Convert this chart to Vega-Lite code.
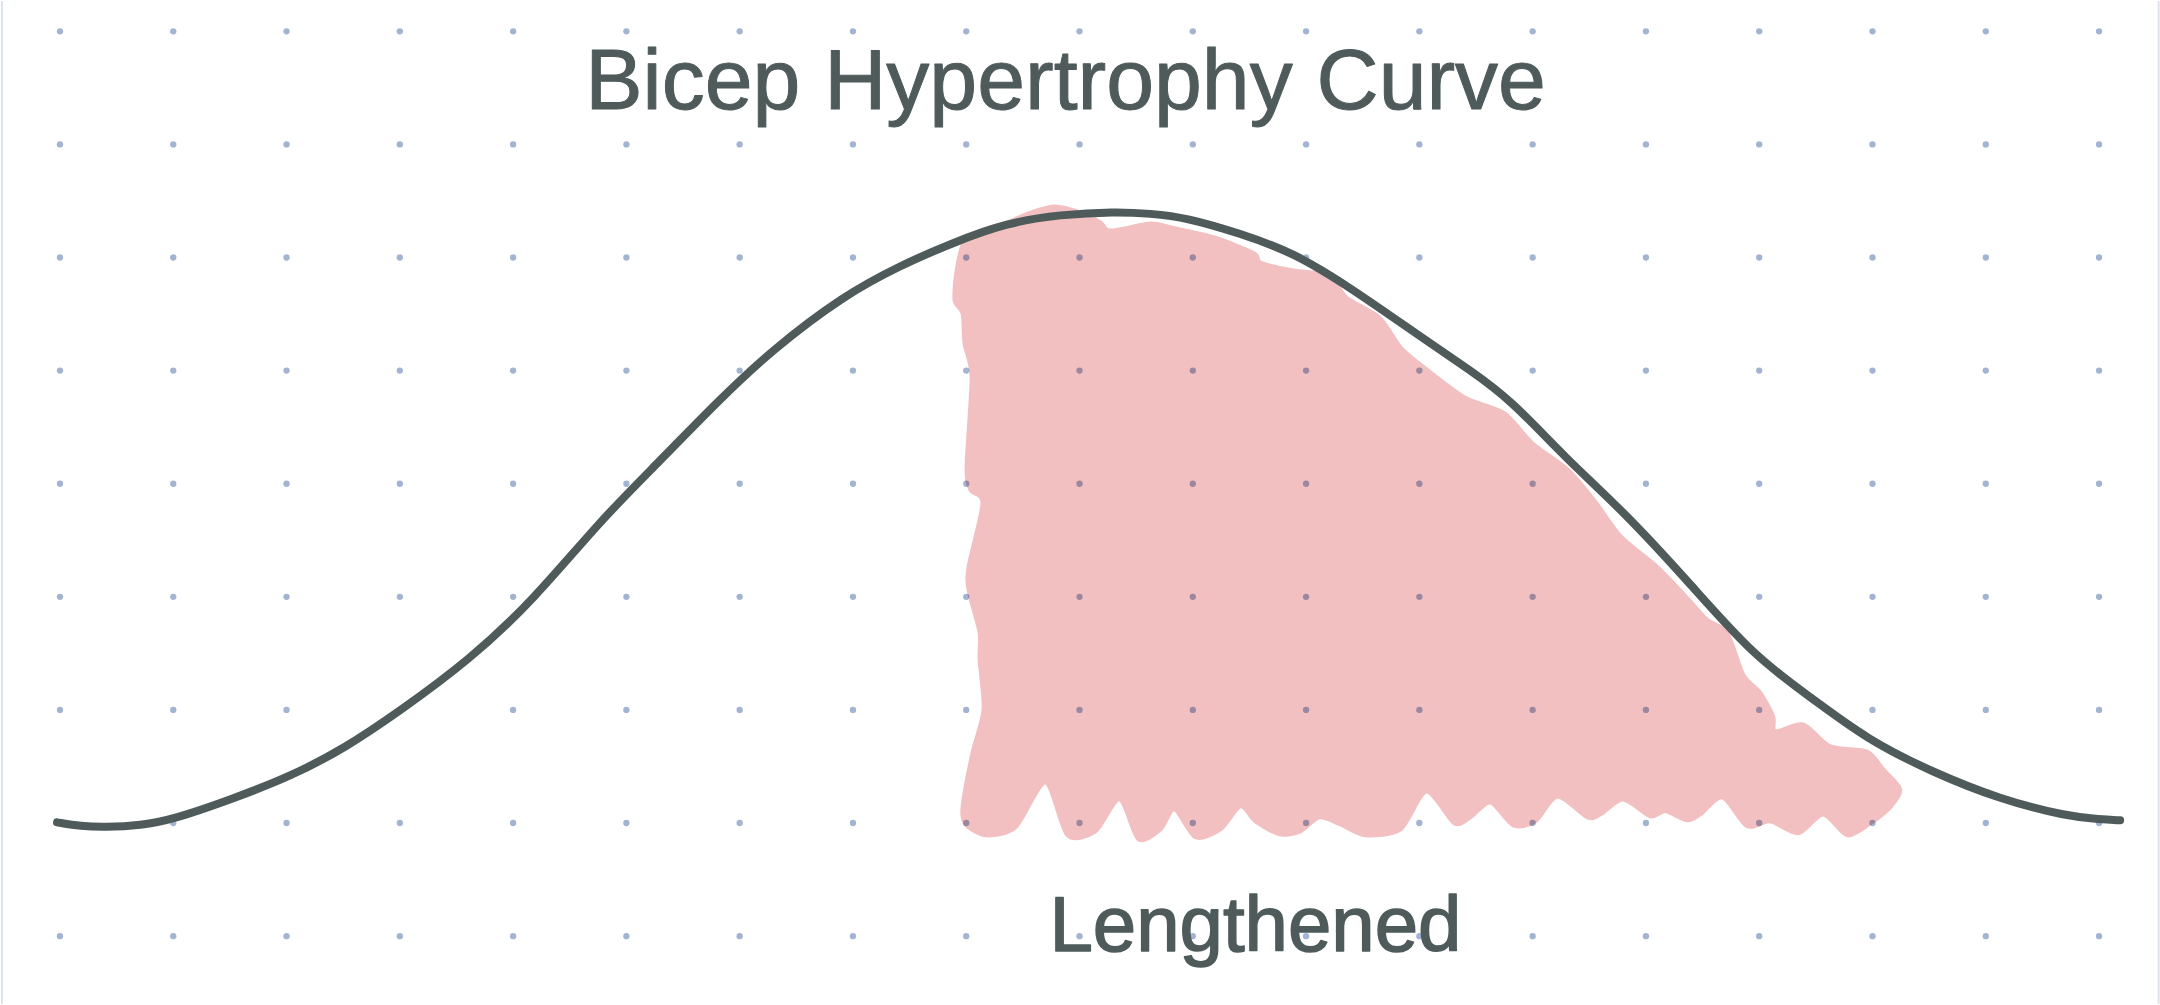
{
  "$schema": "https://vega.github.io/schema/vega-lite/v6.json",
  "width": 2160,
  "height": 1005,
  "autosize": {"type": "fit", "contains": "padding"},
  "padding": 0,
  "background": "#ffffff",
  "config": {"view": {"stroke": null}},
  "datasets": {
    "dots": [
      {"gx":0,"gy":0},{"gx":1,"gy":0},{"gx":2,"gy":0},{"gx":3,"gy":0},{"gx":4,"gy":0},{"gx":5,"gy":0},{"gx":6,"gy":0},{"gx":7,"gy":0},{"gx":8,"gy":0},{"gx":9,"gy":0},{"gx":10,"gy":0},{"gx":11,"gy":0},{"gx":12,"gy":0},{"gx":13,"gy":0},{"gx":14,"gy":0},{"gx":15,"gy":0},{"gx":16,"gy":0},{"gx":17,"gy":0},{"gx":18,"gy":0},
      {"gx":0,"gy":1},{"gx":1,"gy":1},{"gx":2,"gy":1},{"gx":3,"gy":1},{"gx":4,"gy":1},{"gx":5,"gy":1},{"gx":6,"gy":1},{"gx":7,"gy":1},{"gx":8,"gy":1},{"gx":9,"gy":1},{"gx":10,"gy":1},{"gx":11,"gy":1},{"gx":12,"gy":1},{"gx":13,"gy":1},{"gx":14,"gy":1},{"gx":15,"gy":1},{"gx":16,"gy":1},{"gx":17,"gy":1},{"gx":18,"gy":1},
      {"gx":0,"gy":2},{"gx":1,"gy":2},{"gx":2,"gy":2},{"gx":3,"gy":2},{"gx":4,"gy":2},{"gx":5,"gy":2},{"gx":6,"gy":2},{"gx":7,"gy":2},{"gx":8,"gy":2},{"gx":9,"gy":2},{"gx":10,"gy":2},{"gx":11,"gy":2},{"gx":12,"gy":2},{"gx":13,"gy":2},{"gx":14,"gy":2},{"gx":15,"gy":2},{"gx":16,"gy":2},{"gx":17,"gy":2},{"gx":18,"gy":2},
      {"gx":0,"gy":3},{"gx":1,"gy":3},{"gx":2,"gy":3},{"gx":3,"gy":3},{"gx":4,"gy":3},{"gx":5,"gy":3},{"gx":6,"gy":3},{"gx":7,"gy":3},{"gx":8,"gy":3},{"gx":9,"gy":3},{"gx":10,"gy":3},{"gx":11,"gy":3},{"gx":12,"gy":3},{"gx":13,"gy":3},{"gx":14,"gy":3},{"gx":15,"gy":3},{"gx":16,"gy":3},{"gx":17,"gy":3},{"gx":18,"gy":3},
      {"gx":0,"gy":4},{"gx":1,"gy":4},{"gx":2,"gy":4},{"gx":3,"gy":4},{"gx":4,"gy":4},{"gx":5,"gy":4},{"gx":6,"gy":4},{"gx":7,"gy":4},{"gx":8,"gy":4},{"gx":9,"gy":4},{"gx":10,"gy":4},{"gx":11,"gy":4},{"gx":12,"gy":4},{"gx":13,"gy":4},{"gx":14,"gy":4},{"gx":15,"gy":4},{"gx":16,"gy":4},{"gx":17,"gy":4},{"gx":18,"gy":4},
      {"gx":0,"gy":5},{"gx":1,"gy":5},{"gx":2,"gy":5},{"gx":3,"gy":5},{"gx":4,"gy":5},{"gx":5,"gy":5},{"gx":6,"gy":5},{"gx":7,"gy":5},{"gx":8,"gy":5},{"gx":9,"gy":5},{"gx":10,"gy":5},{"gx":11,"gy":5},{"gx":12,"gy":5},{"gx":13,"gy":5},{"gx":14,"gy":5},{"gx":15,"gy":5},{"gx":16,"gy":5},{"gx":17,"gy":5},{"gx":18,"gy":5},
      {"gx":0,"gy":6},{"gx":1,"gy":6},{"gx":2,"gy":6},{"gx":3,"gy":6},{"gx":4,"gy":6},{"gx":5,"gy":6},{"gx":6,"gy":6},{"gx":7,"gy":6},{"gx":8,"gy":6},{"gx":9,"gy":6},{"gx":10,"gy":6},{"gx":11,"gy":6},{"gx":12,"gy":6},{"gx":13,"gy":6},{"gx":14,"gy":6},{"gx":15,"gy":6},{"gx":16,"gy":6},{"gx":17,"gy":6},{"gx":18,"gy":6},
      {"gx":0,"gy":7},{"gx":1,"gy":7},{"gx":2,"gy":7},{"gx":3,"gy":7},{"gx":4,"gy":7},{"gx":5,"gy":7},{"gx":6,"gy":7},{"gx":7,"gy":7},{"gx":8,"gy":7},{"gx":9,"gy":7},{"gx":10,"gy":7},{"gx":11,"gy":7},{"gx":12,"gy":7},{"gx":13,"gy":7},{"gx":14,"gy":7},{"gx":15,"gy":7},{"gx":16,"gy":7},{"gx":17,"gy":7},{"gx":18,"gy":7},
      {"gx":0,"gy":8},{"gx":1,"gy":8},{"gx":2,"gy":8},{"gx":3,"gy":8},{"gx":4,"gy":8},{"gx":5,"gy":8},{"gx":6,"gy":8},{"gx":7,"gy":8},{"gx":8,"gy":8},{"gx":9,"gy":8},{"gx":10,"gy":8},{"gx":11,"gy":8},{"gx":12,"gy":8},{"gx":13,"gy":8},{"gx":14,"gy":8},{"gx":15,"gy":8},{"gx":16,"gy":8},{"gx":17,"gy":8},{"gx":18,"gy":8}
    ],
    "edges": [{"bx": -0.512}, {"bx": 18.526}],
    "shaded": [
      {"i":0,"px":7.985,"py":6.150},{"i":1,"px":8.171,"py":6.256},{"i":2,"px":8.338,"py":6.300},{"i":3,"px":8.568,"py":6.397},{"i":4,"px":8.780,"py":6.450},{"i":5,"px":9.009,"py":6.397},{"i":6,"px":9.186,"py":6.309},{"i":7,"px":9.274,"py":6.238},{"i":8,"px":9.627,"py":6.300},{"i":9,"px":9.812,"py":6.265},
      {"i":10,"px":10.191,"py":6.177},{"i":11,"px":10.544,"py":6.036},{"i":12,"px":10.597,"py":5.956},{"i":13,"px":10.889,"py":5.885},{"i":14,"px":11.206,"py":5.841},{"i":15,"px":11.356,"py":5.647},{"i":16,"px":11.647,"py":5.471},{"i":17,"px":11.833,"py":5.206},{"i":18,"px":12.018,"py":5.047},{"i":19,"px":12.397,"py":4.765},
      {"i":20,"px":12.750,"py":4.624},{"i":21,"px":12.997,"py":4.359},{"i":22,"px":13.315,"py":4.121},{"i":23,"px":13.562,"py":3.829},{"i":24,"px":13.782,"py":3.530},{"i":25,"px":14.100,"py":3.265},{"i":26,"px":14.356,"py":3.000},{"i":27,"px":14.541,"py":2.797},{"i":28,"px":14.718,"py":2.682},{"i":29,"px":14.859,"py":2.312},
      {"i":30,"px":15.009,"py":2.153},{"i":31,"px":15.124,"py":1.941},{"i":32,"px":15.142,"py":1.809},{"i":33,"px":15.389,"py":1.871},{"i":34,"px":15.627,"py":1.677},{"i":35,"px":15.953,"py":1.632},{"i":36,"px":16.095,"py":1.474},{"i":37,"px":16.245,"py":1.297},
      {"i":38,"px":16.156,"py":1.138},{"i":39,"px":15.980,"py":0.997},{"i":40,"px":15.777,"py":0.891},{"i":41,"px":15.565,"py":1.076},{"i":42,"px":15.344,"py":0.909},{"i":43,"px":15.097,"py":1.015},{"i":44,"px":14.894,"py":0.971},{"i":45,"px":14.674,"py":1.227},{"i":46,"px":14.480,"py":1.076},{"i":47,"px":14.365,"py":1.024},
      {"i":48,"px":14.171,"py":1.103},{"i":49,"px":14.039,"py":1.059},{"i":50,"px":13.800,"py":1.209},{"i":51,"px":13.597,"py":1.076},{"i":52,"px":13.483,"py":1.050},{"i":53,"px":13.218,"py":1.235},{"i":54,"px":13.024,"py":1.015},{"i":55,"px":12.830,"py":0.979},{"i":56,"px":12.627,"py":1.182},{"i":57,"px":12.450,"py":1.050},
      {"i":58,"px":12.309,"py":0.997},{"i":59,"px":12.062,"py":1.279},{"i":60,"px":11.833,"py":0.944},{"i":61,"px":11.524,"py":0.891},{"i":62,"px":11.303,"py":0.988},{"i":63,"px":11.118,"py":1.050},{"i":64,"px":10.950,"py":0.927},{"i":65,"px":10.765,"py":0.900},{"i":66,"px":10.553,"py":1.015},{"i":67,"px":10.421,"py":1.147},
      {"i":68,"px":10.244,"py":0.944},{"i":69,"px":10.024,"py":0.874},{"i":70,"px":9.838,"py":1.121},{"i":71,"px":9.715,"py":0.944},{"i":72,"px":9.521,"py":0.856},{"i":73,"px":9.353,"py":1.209},{"i":74,"px":9.141,"py":0.927},{"i":75,"px":8.894,"py":0.891},{"i":76,"px":8.700,"py":1.359},{"i":77,"px":8.435,"py":0.962},
      {"i":78,"px":8.180,"py":0.891},{"i":79,"px":7.994,"py":0.988},{"i":80,"px":7.968,"py":1.147},{"i":81,"px":8.056,"py":1.624},{"i":82,"px":8.153,"py":2.003},{"i":83,"px":8.118,"py":2.444},{"i":84,"px":8.118,"py":2.682},{"i":85,"px":8.021,"py":3.062},{"i":86,"px":8.021,"py":3.265},{"i":87,"px":8.144,"py":3.829},
      {"i":88,"px":8.038,"py":3.944},{"i":89,"px":8.003,"py":4.147},{"i":90,"px":8.047,"py":4.941},{"i":91,"px":7.985,"py":5.241},{"i":92,"px":7.968,"py":5.506},{"i":93,"px":7.897,"py":5.621},{"i":94,"px":7.915,"py":5.885}
    ],
    "curve": [
      {"pos":-0.026,"growth":1.006},{"pos":0.185,"growth":0.971},{"pos":0.397,"growth":0.962},{"pos":0.715,"growth":0.979},{"pos":0.997,"growth":1.032},{"pos":1.509,"growth":1.209},{"pos":2.038,"growth":1.412},{"pos":2.524,"growth":1.668},{"pos":2.982,"growth":1.977},{"pos":3.618,"growth":2.444},
      {"pos":4.182,"growth":2.974},{"pos":4.774,"growth":3.679},{"pos":5.277,"growth":4.182},{"pos":5.815,"growth":4.738},{"pos":6.282,"growth":5.180},{"pos":6.918,"growth":5.665},{"pos":7.421,"growth":5.930},{"pos":7.862,"growth":6.124},{"pos":8.365,"growth":6.309},{"pos":8.833,"growth":6.380},
      {"pos":9.309,"growth":6.406},{"pos":9.627,"growth":6.389},{"pos":9.944,"growth":6.353},{"pos":10.421,"growth":6.212},{"pos":10.889,"growth":6.044},{"pos":11.391,"growth":5.735},{"pos":12.018,"growth":5.294},{"pos":12.450,"growth":5.003},{"pos":12.812,"growth":4.738},{"pos":13.280,"growth":4.235},
      {"pos":13.818,"growth":3.741},{"pos":14.383,"growth":3.124},{"pos":14.956,"growth":2.471},{"pos":15.459,"growth":2.109},{"pos":15.953,"growth":1.738},{"pos":16.536,"growth":1.447},{"pos":17.127,"growth":1.209},{"pos":17.718,"growth":1.059},{"pos":18.009,"growth":1.032},{"pos":18.186,"growth":1.024}
    ],
    "labels": [
      {"label": "Bicep Hypertrophy Curve", "lx": 8.877, "ly": 7.315, "kind": "title"},
      {"label": "Lengthened", "lx": 10.553, "ly": -0.132, "kind": "axis"}
    ]
  },
  "layer": [
    {
      "data": {"name": "edges"},
      "mark": {"type": "rule", "color": "#dfe4ec", "strokeWidth": 2},
      "encoding": {
        "x": {"field": "bx", "type": "quantitative", "scale": {"domain": [-0.5206, 18.538], "nice": false, "zero": false}, "axis": null}
      }
    },
    {
      "data": {"name": "dots"},
      "mark": {"type": "point", "shape": "circle", "filled": true, "size": 40, "color": "#a3b4d3", "opacity": 1},
      "encoding": {
        "x": {"field": "gx", "type": "quantitative", "scale": {"domain": [-0.5206, 18.538], "nice": false, "zero": false}, "axis": null},
        "y": {"field": "gy", "type": "quantitative", "scale": {"domain": [-0.600, 8.268], "nice": false, "zero": false}, "axis": null}
      }
    },
    {
      "data": {"name": "shaded"},
      "mark": {"type": "line", "fill": "#f2c0c0", "stroke": "#f2c0c0", "strokeWidth": 4, "interpolate": "cardinal-closed", "tension": 0.2, "blend": "multiply"},
      "encoding": {
        "x": {"field": "px", "type": "quantitative", "scale": {"domain": [-0.5206, 18.538], "nice": false, "zero": false}, "axis": null},
        "y": {"field": "py", "type": "quantitative", "scale": {"domain": [-0.600, 8.268], "nice": false, "zero": false}, "axis": null},
        "order": {"field": "i", "type": "quantitative"}
      }
    },
    {
      "data": {"name": "curve"},
      "mark": {"type": "line", "color": "#4f5b5b", "strokeWidth": 8, "strokeCap": "round", "strokeJoin": "round", "interpolate": "basis"},
      "encoding": {
        "x": {"field": "pos", "type": "quantitative", "scale": {"domain": [-0.5206, 18.538], "nice": false, "zero": false}, "axis": null},
        "y": {"field": "growth", "type": "quantitative", "scale": {"domain": [-0.600, 8.268], "nice": false, "zero": false}, "axis": null}
      }
    },
    {
      "data": {"name": "labels"},
      "transform": [{"filter": "datum.kind == 'title'"}],
      "mark": {"type": "text", "font": "Liberation Sans", "fontSize": 86, "color": "#4f5b5b", "stroke": "#4f5b5b", "strokeWidth": 1, "strokeJoin": "round", "align": "center", "baseline": "alphabetic"},
      "encoding": {
        "x": {"field": "lx", "type": "quantitative", "scale": {"domain": [-0.5206, 18.538], "nice": false, "zero": false}, "axis": null},
        "y": {"field": "ly", "type": "quantitative", "scale": {"domain": [-0.600, 8.268], "nice": false, "zero": false}, "axis": null},
        "text": {"field": "label"}
      }
    },
    {
      "data": {"name": "labels"},
      "transform": [{"filter": "datum.kind == 'axis'"}],
      "mark": {"type": "text", "font": "Liberation Sans", "fontSize": 78, "color": "#4f5b5b", "stroke": "#4f5b5b", "strokeWidth": 1.5, "strokeJoin": "round", "align": "center", "baseline": "alphabetic"},
      "encoding": {
        "x": {"field": "lx", "type": "quantitative", "scale": {"domain": [-0.5206, 18.538], "nice": false, "zero": false}, "axis": null},
        "y": {"field": "ly", "type": "quantitative", "scale": {"domain": [-0.600, 8.268], "nice": false, "zero": false}, "axis": null},
        "text": {"field": "label"}
      }
    }
  ]
}
